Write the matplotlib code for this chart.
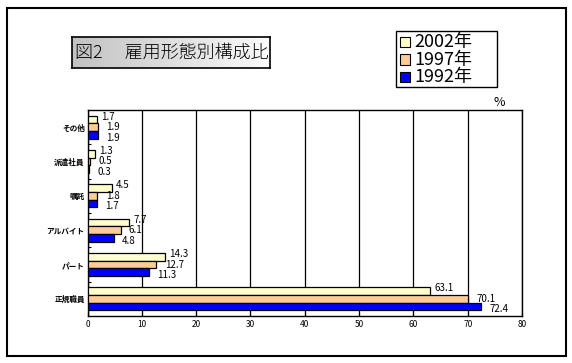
import numpy as np
import matplotlib.pyplot as plt
from matplotlib.patches import Rectangle

plt.rcParams['font.family'] = ['Noto Sans CJK JP', 'DejaVu Sans']

categories = ["その他", "派遣社員", "嘱託", "アルバイト", "パート", "正規職員"]
years = ["2002年", "1997年", "1992年"]
v2002 = [1.7, 1.3, 4.5, 7.7, 14.3, 63.1]
v1997 = [1.9, 0.5, 1.8, 6.1, 12.7, 70.1]
v1992 = [1.9, 0.3, 1.7, 4.8, 11.3, 72.4]
colors = ["#FFFFCC", "#FFCC99", "#0000FF"]
xticks = [0, 10, 20, 30, 40, 50, 60, 70, 80]

W, H = 572, 363
fig = plt.figure(figsize=(W / 100, H / 100), dpi=100)

def fx(px):
    return px / W

def fy(py):
    return 1 - py / H

# outer frame
fig.patches.append(Rectangle((fx(6.5), fy(355.5)), fx(566) - fx(6.5), fy(8) - fy(355.5),
                             transform=fig.transFigure, fill=False, lw=1.5, ec="black"))

ax = fig.add_axes([fx(87.5), fy(316), fx(522) - fx(87.5), fy(110) - fy(316)])

y = np.arange(len(categories))
h = 0.225
for i, vals in enumerate([v2002, v1997, v1992]):
    pos = y + (i - 1) * h
    ax.barh(pos, vals, height=h, color=colors[i], edgecolor="black", lw=0.9, zorder=3)
    for p, v in zip(pos, vals):
        ax.annotate(f"{v}", (v, p), xytext=([3, 6, 6][i], [2, 0, -2][i]), textcoords="offset points",
                    ha="left", va="center", fontsize=7, zorder=4)

ax.set_xlim(0, 80)
ax.set_ylim(len(categories) - 0.5, -0.5)
ax.set_xticks(xticks)
ax.set_xticklabels([str(t) for t in xticks], fontsize=6)
ax.set_yticks(y)
ax.set_yticklabels(categories, fontsize=5.5, fontweight="bold")
ax.set_yticks(np.arange(len(categories) - 1) + 0.5, minor=True)
ax.tick_params(axis="y", which="major", length=0, pad=2)
ax.tick_params(axis="y", which="minor", length=2.5, direction="in", width=0.8)
ax.tick_params(axis="x", length=3, direction="in", width=0.8, pad=3)
ax.grid(axis="x", color="black", lw=0.9, zorder=1)
for s in ax.spines.values():
    s.set_linewidth(1.0)
fig.text(fx(499), fy(103), "%", fontsize=9, ha="center", va="center")

# title with grey gradient box
tax = fig.add_axes([fx(72), fy(68), fx(270) - fx(72), fy(37) - fy(68)])
grad = np.linspace(0.76, 0.98, 256)
grad = np.vstack([grad, grad])
tax.imshow(grad, aspect="auto", cmap="gray", vmin=0, vmax=1, extent=(0, 1, 0, 1))
tax.set_xticks([])
tax.set_yticks([])
for s in tax.spines.values():
    s.set_linewidth(1.2)
tax.text(0.015, 0.5, "図2　 雇用形態別構成比", fontsize=13, fontweight="light",
         ha="left", va="center", transform=tax.transAxes)

# legend box
fig.patches.append(Rectangle((fx(396), fy(87)), fx(497) - fx(396), fy(31) - fy(87),
                             transform=fig.transFigure, fill=True, fc="white", lw=1.0, ec="black"))
for i, lab in enumerate(years):
    cy = 42 + i * 17.5
    fig.patches.append(Rectangle((fx(400), fy(cy + 5)), fx(10), fx(10) * W / H,
                                 transform=fig.transFigure, fc=colors[i], ec="black", lw=0.8))
    fig.text(fx(414), fy(cy), lab, fontsize=13, ha="left", va="center")

fig.savefig("out.png", dpi=100)
